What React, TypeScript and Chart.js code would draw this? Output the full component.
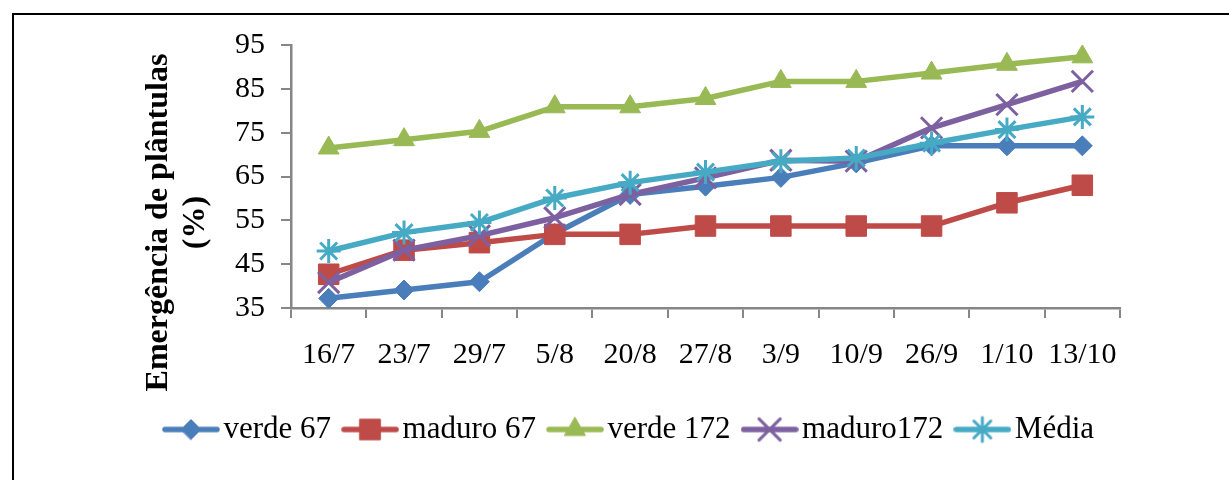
import React, { useEffect, useRef } from 'react';
import { Chart, registerables } from 'chart.js';
import { drawPoint } from 'chart.js/helpers';

Chart.register(...registerables);

// ---- data ----
const categories = ['16/7', '23/7', '29/7', '5/8', '20/8', '27/8', '3/9', '10/9', '26/9', '1/10', '13/10'];
const verde67 = [37.2, 39.1, 41.0, 52.0, 60.9, 62.8, 64.8, 68.1, 72.0, 72.0, 72.0];
const maduro67 = [42.7, 48.2, 49.9, 51.8, 51.8, 53.7, 53.7, 53.7, 53.7, 59.0, 63.0];
const verde172 = [71.5, 73.4, 75.3, 80.9, 80.9, 82.8, 86.7, 86.7, 88.6, 90.6, 92.3];
const maduro172 = [40.8, 48.2, 51.5, 55.6, 60.9, 64.7, 68.7, 68.5, 76.1, 81.4, 86.7];
const media = [48.0, 52.2, 54.5, 60.1, 63.6, 66.0, 68.5, 69.2, 72.6, 75.7, 78.6];
const seriesNames = ['verde 67', 'maduro 67', 'verde 172', 'maduro172', 'Média'];
const yMin = 35;
const yMax = 95;
const yStep = 10;
const yTitle = ['Emergência de plântulas', '(%)'];

const FONT = '"Liberation Serif", "Times New Roman", serif';

type Style = { color: string; pointStyle: string; radius: number; bw: number };
const styles: Style[] = [
  { color: '#4A7EBB', pointStyle: 'rectRot', radius: 10, bw: 1 },
  { color: '#BE4B48', pointStyle: 'rect', radius: 14.5, bw: 1 },
  { color: '#98B954', pointStyle: 'triangle', radius: 12, bw: 1 },
  { color: '#7D60A0', pointStyle: 'crossRot', radius: 15, bw: 3 },
  { color: '#46AAC5', pointStyle: 'star', radius: 12, bw: 3 },
];

function legendIcon(s: Style): HTMLCanvasElement {
  const c = document.createElement('canvas');
  c.width = 58;
  c.height = 30;
  const ctx = c.getContext('2d') as CanvasRenderingContext2D;
  ctx.strokeStyle = s.color;
  ctx.lineWidth = 5.5;
  ctx.lineCap = 'round';
  ctx.beginPath();
  ctx.moveTo(3, 15);
  ctx.lineTo(55, 15);
  ctx.stroke();
  ctx.fillStyle = s.color;
  ctx.strokeStyle = s.color;
  ctx.lineWidth = s.bw;
  drawPoint(ctx, { pointStyle: s.pointStyle as any, radius: s.radius, rotation: 0, borderWidth: s.bw } as any, 29, 15);
  return c;
}

const yTitlePlugin = {
  id: 'yTitleCustom',
  afterDraw(chart: any) {
    const { ctx, chartArea } = chart;
    ctx.save();
    ctx.font = `bold 32px ${FONT}`;
    ctx.fillStyle = '#000';
    ctx.textAlign = 'center';
    ctx.textBaseline = 'middle';
    const cy = (chartArea.top + chartArea.bottom) / 2 + 46;
    ctx.translate(159, cy);
    ctx.rotate(-Math.PI / 2);
    yTitle.forEach((t, i) => ctx.fillText(t, 0, i * 37));
    ctx.restore();
  },
};

export default function App() {
  const ref = useRef<HTMLCanvasElement | null>(null);

  useEffect(() => {
    if (!ref.current) return;
    const all = [verde67, maduro67, verde172, maduro172, media];
    const icons = styles.map(legendIcon);
    const datasets = all.map((d, i) => ({
      label: seriesNames[i],
      data: d,
      borderColor: styles[i].color,
      backgroundColor: styles[i].color,
      borderWidth: 5.5,
      tension: 0,
      borderJoinStyle: 'round' as const,
      pointStyle: styles[i].pointStyle as any,
      pointRadius: styles[i].radius,
      pointBackgroundColor: styles[i].color,
      pointBorderColor: styles[i].color,
      pointBorderWidth: styles[i].bw,
      order: all.length - i,
    }));

    const axisColor = '#868686';
    const tickFont = { family: FONT, size: 30 };

    const chart = new Chart(ref.current, {
      type: 'line',
      data: { labels: categories, datasets },
      options: {
        responsive: false,
        animation: false,
        devicePixelRatio: 1,
        layout: { padding: { left: 148, right: 109, top: 45, bottom: 25 } },
        plugins: {
          tooltip: { enabled: false },
          legend: {
            position: 'bottom',
            labels: {
              usePointStyle: true,
              pointStyleWidth: 34,
              padding: 22,
              color: '#000',
              font: { family: FONT, size: 31 },
              generateLabels: () =>
                seriesNames.map((n, i) => ({
                  text: n,
                  pointStyle: icons[i] as any,
                  fillStyle: styles[i].color,
                  strokeStyle: styles[i].color,
                  lineWidth: 0,
                  hidden: false,
                  datasetIndex: i,
                  fontColor: '#000',
                })),
            },
          },
        },
        scales: {
          x: {
            type: 'category',
            offset: true,
            grid: {
              offset: true,
              drawOnChartArea: false,
              drawTicks: true,
              tickLength: 10,
              color: axisColor,
              lineWidth: 2,
            },
            border: { color: axisColor, width: 2.5 },
            ticks: { font: tickFont, color: '#000', padding: 19, maxRotation: 0, autoSkip: false },
            afterFit: (s: any) => {
              s.height = 84;
            },
          },
          y: {
            min: yMin,
            max: yMax,
            grid: {
              drawOnChartArea: false,
              drawTicks: true,
              tickLength: 10,
              color: axisColor,
              lineWidth: 2,
            },
            border: { color: axisColor, width: 2.5 },
            ticks: { stepSize: yStep, font: tickFont, color: '#000', padding: 16 },
            afterFit: (s: any) => {
              s.width = 143;
            },
          },
        },
      } as any,
      plugins: [yTitlePlugin],
    });
    return () => chart.destroy();
  }, []);

  return (
    <>
      <div
        style={{
          position: 'fixed',
          left: 12,
          top: 13,
          width: 1300,
          height: 600,
          borderLeft: '2px solid #000',
          borderTop: '2px solid #000',
          boxSizing: 'border-box',
        }}
      />
      <canvas
        ref={ref}
        width={1229}
        height={480}
        style={{ position: 'fixed', left: 0, top: 0, width: 1229, height: 480, display: 'block' }}
      />
    </>
  );
}
